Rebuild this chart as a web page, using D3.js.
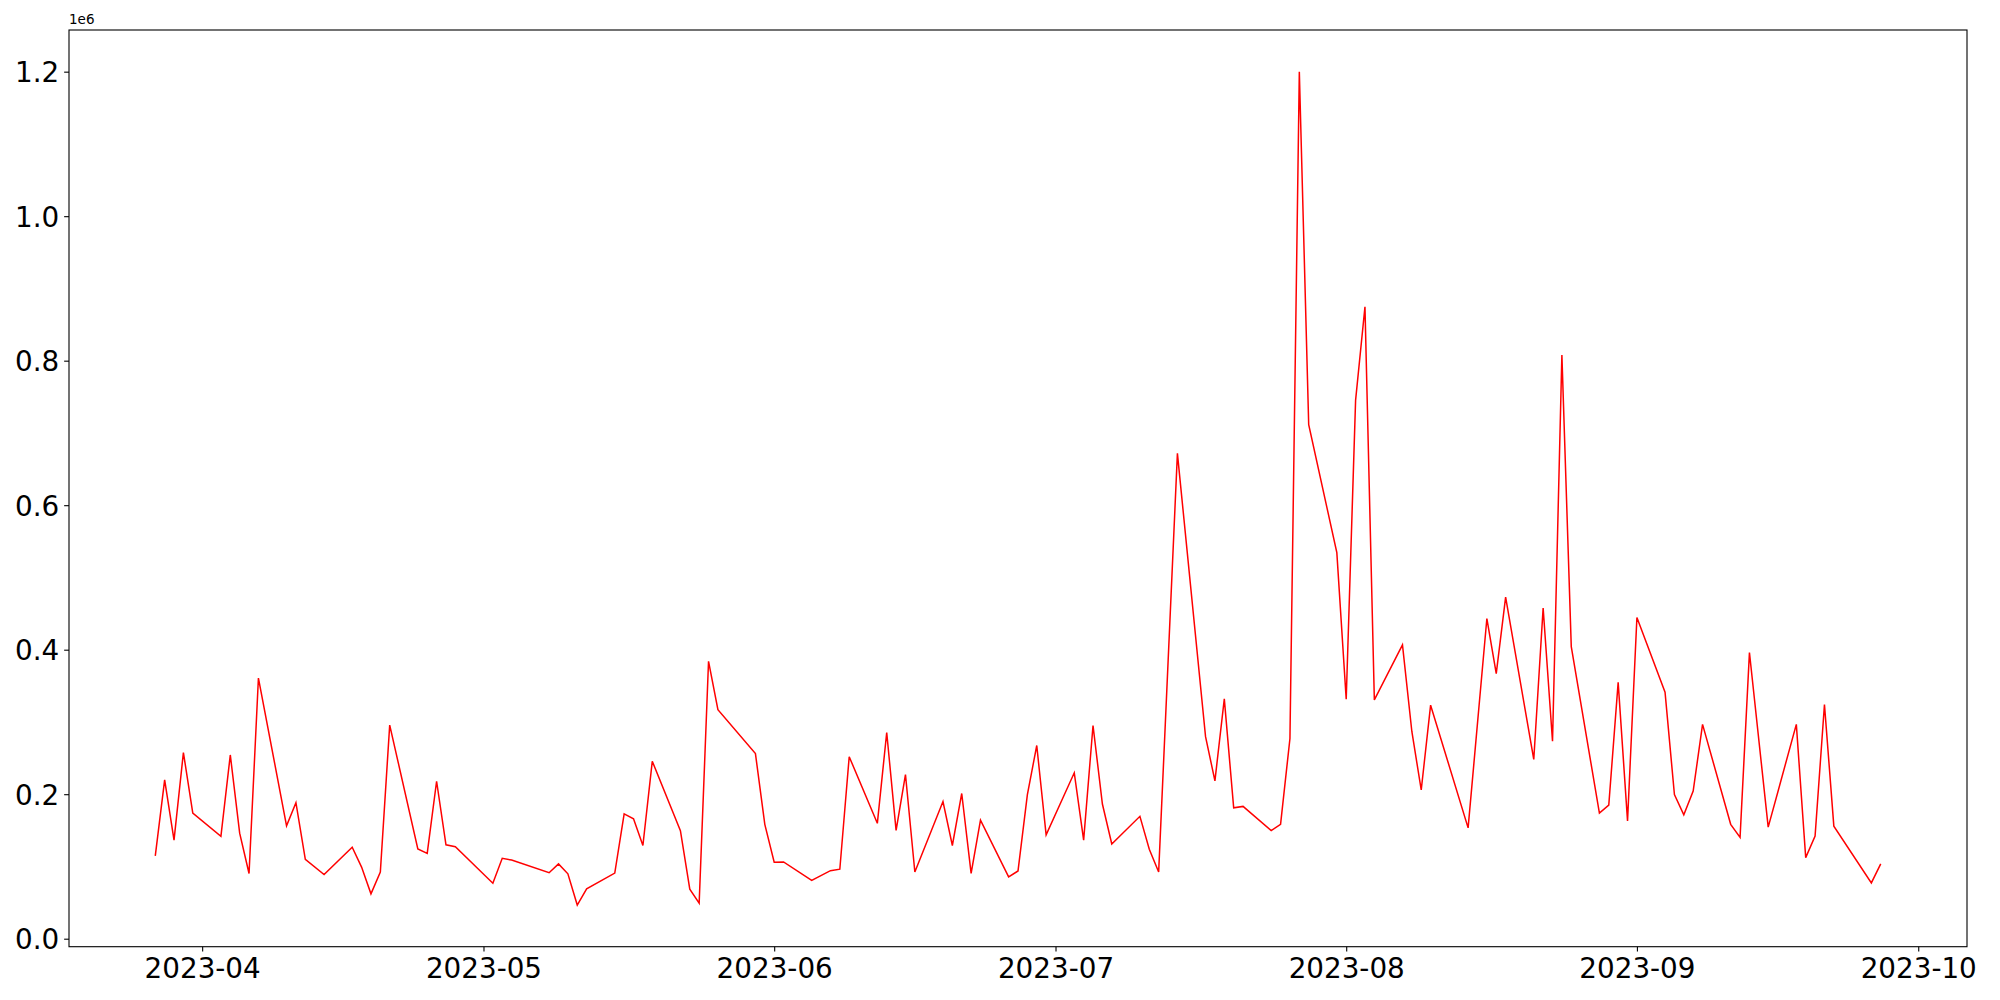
<!DOCTYPE html>
<html>
<head>
<meta charset="utf-8">
<script src="https://cdn.jsdelivr.net/npm/d3@7"></script>
<style>
  html, body { margin: 0; padding: 0; background: #fff; }
  svg { display: block; }
  text { font-family: "DejaVu Sans", sans-serif; fill: #000; }
</style>
</head>
<body>
<svg id="chart" width="2000" height="1000"></svg>
<script>
// ---- data (values in units; axis shows them scaled by 1e6) ----
const dates = [
  "2023-03-27","2023-03-28","2023-03-29","2023-03-30","2023-03-31",
  "2023-04-03","2023-04-04","2023-04-05","2023-04-06","2023-04-07",
  "2023-04-10","2023-04-11","2023-04-12","2023-04-14",
  "2023-04-17","2023-04-18","2023-04-19","2023-04-20","2023-04-21",
  "2023-04-24","2023-04-25","2023-04-26","2023-04-27","2023-04-28",
  "2023-05-02","2023-05-03","2023-05-04",
  "2023-05-08","2023-05-09","2023-05-10","2023-05-11","2023-05-12",
  "2023-05-15","2023-05-16","2023-05-17","2023-05-18","2023-05-19",
  "2023-05-22","2023-05-23","2023-05-24","2023-05-25","2023-05-26",
  "2023-05-30","2023-05-31","2023-06-01","2023-06-02",
  "2023-06-05","2023-06-07","2023-06-08","2023-06-09",
  "2023-06-12","2023-06-13","2023-06-14","2023-06-15","2023-06-16",
  "2023-06-19","2023-06-20","2023-06-21","2023-06-22","2023-06-23",
  "2023-06-26","2023-06-27","2023-06-28","2023-06-29","2023-06-30",
  "2023-07-03","2023-07-04","2023-07-05","2023-07-06","2023-07-07",
  "2023-07-10","2023-07-11","2023-07-12","2023-07-14",
  "2023-07-17","2023-07-18","2023-07-19","2023-07-20","2023-07-21",
  "2023-07-24","2023-07-25","2023-07-26","2023-07-27","2023-07-28",
  "2023-07-31","2023-08-01","2023-08-02","2023-08-03","2023-08-04",
  "2023-08-07","2023-08-08","2023-08-09","2023-08-10",
  "2023-08-14","2023-08-16","2023-08-17","2023-08-18",
  "2023-08-21","2023-08-22","2023-08-23","2023-08-24","2023-08-25",
  "2023-08-28","2023-08-29","2023-08-30","2023-08-31","2023-09-01",
  "2023-09-04","2023-09-05","2023-09-06","2023-09-07","2023-09-08",
  "2023-09-11","2023-09-12","2023-09-13","2023-09-15",
  "2023-09-18","2023-09-19","2023-09-20","2023-09-21","2023-09-22",
  "2023-09-26","2023-09-27"
];
const values = [
  114600, 219900, 136400, 257700, 173800,
  141800, 254300, 146100, 90300, 360700,
  156300, 188300, 109700, 88800,
  126700, 99100, 62100, 92300, 295700,
  124300, 118000, 217900, 130000, 127200,
  76800, 111200, 108800,
  91300, 103500, 89800, 46600, 69000,
  90800, 172800, 166000, 129000, 245600,
  149600, 68500, 49100, 383900, 317000,
  256200, 158300, 105800, 106300,
  80700, 94200, 96200, 251900,
  159700, 285400, 150000, 227200, 92300,
  189800, 129000, 201000, 90300, 164100,
  85500, 93700, 199500, 267400, 143700,
  229600, 136400, 295100, 186400, 131100,
  169400, 123800, 92300, 671700,
  279600, 218500, 332000, 181100, 183100,
  149600, 158300, 277100, 1200000, 711400,
  534300, 331500, 745000, 874600, 330500,
  406700, 286800, 205800, 323200,
  153400, 443100, 366900, 472700,
  248100, 457700, 273300, 807700, 404300,
  173800, 185000, 354800, 163100, 444600,
  341200, 199500, 171400, 204300, 296600,
  158300, 140300, 396100, 154400,
  296600, 112200, 142200, 324200, 155800,
  77200, 103500
];
const yTickValues = [0, 200000, 400000, 600000, 800000, 1000000, 1200000];
const xTickLabels = ["2023-04","2023-05","2023-06","2023-07","2023-08","2023-09","2023-10"];
const yOffsetLabel = "1e6";

// ---- layout ----
const L = 69, R = 1967, T = 30, B = 946.7;
const FS = 27.8;
const tickLen = 4.86, tickPad = 4.86;

const parse = d3.utcParse("%Y-%m-%d");
const parseMonth = d3.utcParse("%Y-%m");
const points = dates.map((d, i) => ({ date: parse(d), value: values[i] }));

// matplotlib-like 5% margins
const xExt = d3.extent(points, d => d.date.getTime());
const xPad = (xExt[1] - xExt[0]) * 0.05;
const x = d3.scaleUtc()
  .domain([new Date(xExt[0] - xPad), new Date(xExt[1] + xPad)])
  .range([L, R]);

const yExt = d3.extent(values);
const yPad = (yExt[1] - yExt[0]) * 0.05;
const y = d3.scaleLinear()
  .domain([yExt[0] - yPad, yExt[1] + yPad])
  .range([B, T]);

const svg = d3.select("#chart");

// line
const line = d3.line().x(d => x(d.date)).y(d => y(d.value));
svg.append("path")
  .datum(points)
  .attr("fill", "none")
  .attr("stroke", "#ff0000")
  .attr("stroke-width", 1.5)
  .attr("stroke-linejoin", "miter")
  .attr("d", line);

// x axis
const xAxis = d3.axisBottom(x)
  .tickValues(xTickLabels.map(parseMonth))
  .tickFormat(d3.utcFormat("%Y-%m"))
  .tickSize(tickLen)
  .tickPadding(tickPad);
const gx = svg.append("g").attr("transform", `translate(0,${B})`).call(xAxis);
gx.select(".domain").remove();
gx.selectAll(".tick line").attr("stroke", "#000").attr("stroke-width", 1.1);
gx.selectAll(".tick text")
  .attr("font-size", FS)
  .attr("font-family", "DejaVu Sans")
  .attr("fill", "#000")
  .attr("dy", "0.76em");

// y axis
const yAxis = d3.axisLeft(y)
  .tickValues(yTickValues)
  .tickFormat(d => (d / 1e6).toFixed(1))
  .tickSize(tickLen)
  .tickPadding(tickPad);
const gy = svg.append("g").attr("transform", `translate(${L},0)`).call(yAxis);
gy.select(".domain").remove();
gy.selectAll(".tick line").attr("stroke", "#000").attr("stroke-width", 1.1);
gy.selectAll(".tick text")
  .attr("font-size", FS)
  .attr("font-family", "DejaVu Sans")
  .attr("fill", "#000")
  .attr("dy", "0.36em");

// frame
svg.append("rect")
  .attr("x", L).attr("y", T)
  .attr("width", R - L).attr("height", B - T)
  .attr("fill", "none")
  .attr("stroke", "#000")
  .attr("stroke-width", 1.1);

// offset text
svg.append("text")
  .attr("x", L).attr("y", T - 6)
  .attr("font-size", 13.5)
  .text(yOffsetLabel);
</script>
</body>
</html>
